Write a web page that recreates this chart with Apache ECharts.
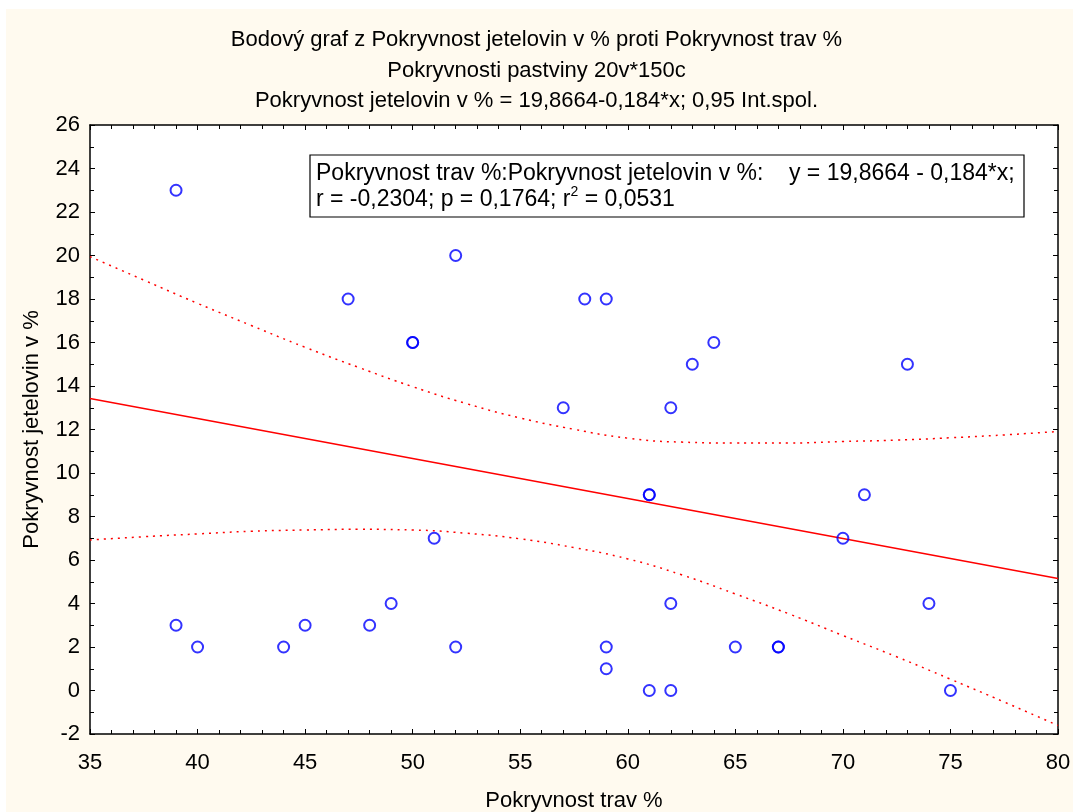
<!DOCTYPE html>
<html>
<head>
<meta charset="utf-8">
<script src="https://cdn.jsdelivr.net/npm/echarts@6/dist/echarts.min.js"></script>
<style>
html,body{margin:0;padding:0;background:#ffffff;}
#c{width:1073px;height:812px;}
</style>
</head>
<body>
<div id="c"></div>
<script>
// Data
var xTravy = [39,39,40,44,45,47,48,49,50,50,51,52,52,57,58,59,59,59,61,61,61,62,62,62,63,64,65,67,67,70,71,73,74,75];
var yJetel = [23,3,2,2,3,18,3,4,16,16,7,20,2,13,18,18,2,1,9,9,0,13,4,0,15,16,2,2,2,7,9,15,4,0];
var fitX = [35,80];
var fitY = [13.43,5.15];
var bandX = [35,37.5,40,42.5,45,47.5,50,52.5,55,57.5,60,62.5,65,67.5,70,72.5,75,77.5,80];
var bandUpper = [19.95,18.87,17.8,16.78,15.78,14.85,13.97,13.19,12.53,12.01,11.6,11.42,11.38,11.38,11.45,11.51,11.62,11.75,11.91];
var bandLower = [6.92,7.07,7.2,7.32,7.38,7.41,7.38,7.23,6.97,6.57,6.05,5.32,4.44,3.52,2.53,1.55,0.52,-0.53,-1.61];
var titleLines = ['Bodový graf z Pokryvnost jetelovin v % proti Pokryvnost trav %','Pokryvnosti pastviny 20v*150c','Pokryvnost jetelovin v % = 19,8664-0,184*x; 0,95 Int.spol.'];
var xName = 'Pokryvnost trav %';
var yName = 'Pokryvnost jetelovin v %';

function zip(a,b){var r=[];for(var i=0;i<a.length;i++)r.push([a[i],b[i]]);return r;}
var FONT = 'Liberation Sans, Arial, sans-serif';
var FS = 22;
var chart = echarts.init(document.getElementById('c'));
var axCommon = {
  axisLine:{show:true,onZero:false,lineStyle:{color:'#000',width:1.5}},
  axisTick:{show:true,inside:true,length:5,lineStyle:{color:'#000'}},
  splitLine:{show:false}
};
var option = {
  backgroundColor:'#ffffff',
  animation:false,
  textStyle:{fontFamily:FONT},
  title: titleLines.map(function(t,i){return {text:t,left:'center',top:24+i*30.5,textStyle:{fontFamily:FONT,fontSize:FS,fontWeight:'normal',color:'#000'}};}),
  graphic:[
    {type:'rect',z:-10,silent:true,shape:{x:6,y:9,width:1067,height:803},style:{fill:'#fffaef'}},
    {type:'rect',z:-9,silent:true,shape:{x:90,y:125,width:968,height:609},style:{fill:'#ffffff'}},
    {type:'rect',z:100,silent:true,shape:{x:310,y:155,width:714,height:62},style:{fill:'#ffffff',stroke:'#000',lineWidth:1.2}},
    {type:'text',z:101,silent:true,left:316,top:162,style:{text:'Pokryvnost trav %:Pokryvnost jetelovin v %:    y = 19,8664 - 0,184*x;',font:'23px '+FONT,fill:'#000'}},
    {type:'text',z:101,silent:true,left:316,top:185,style:{text:'{a|r = -0,2304; p = 0,1764; r}{s|2}{a| = 0,0531}',fill:'#000',
      rich:{a:{fontSize:23,fontFamily:FONT,lineHeight:26,verticalAlign:'bottom'},s:{fontSize:14,fontFamily:FONT,lineHeight:26,verticalAlign:'top',padding:[0,0,10,0]}}}}
  ],
  grid:{left:90,right:15,top:125,bottom:78,containLabel:false,outerBoundsMode:'none'},
  xAxis:[
    Object.assign({type:'value',min:35,max:80,interval:5,position:'bottom',
      name:xName,nameLocation:'middle',nameGap:56,nameTextStyle:{fontSize:FS,color:'#000',fontFamily:FONT},
      axisLabel:{fontSize:FS,color:'#000',margin:18,fontFamily:FONT},
      splitLine:{show:true,lineStyle:{color:'#dcdcdc',width:1}}},axCommon,{minorTick:{show:true,splitNumber:5,length:4,lineStyle:{color:'#000'}}}),
    Object.assign({type:'value',min:35,max:80,interval:5,position:'top',axisLabel:{show:false}},axCommon,{minorTick:{show:true,splitNumber:5,length:4,lineStyle:{color:'#000'}}})
  ],
  yAxis:[
    Object.assign({type:'value',min:-2,max:26,interval:2,position:'left',
      name:yName,nameLocation:'middle',nameGap:47,nameTextStyle:{fontSize:FS,color:'#000',fontFamily:FONT},
      axisLabel:{fontSize:FS,color:'#000',margin:10,fontFamily:FONT},
      splitLine:{show:true,lineStyle:{color:'#dcdcdc',width:1}}},axCommon,{minorTick:{show:true,splitNumber:2,length:4,lineStyle:{color:'#000'}}}),
    Object.assign({type:'value',min:-2,max:26,interval:2,position:'right',axisLabel:{show:false}},axCommon,{minorTick:{show:true,splitNumber:2,length:4,lineStyle:{color:'#000'}}})
  ],
  series:[
    {type:'line',data:zip(bandX,bandUpper),smooth:true,symbol:'none',clip:true,lineStyle:{color:'#ff0000',width:1.5,type:[2,5]},z:3},
    {type:'line',data:zip(bandX,bandLower),smooth:true,symbol:'none',clip:true,lineStyle:{color:'#ff0000',width:1.5,type:[2,5]},z:3},
    {type:'line',data:zip(fitX,fitY),symbol:'none',lineStyle:{color:'#ff0000',width:1.5},z:3},
    {type:'scatter',data:zip(xTravy,yJetel),symbol:'circle',symbolSize:11,itemStyle:{color:'rgba(255,255,255,0)',borderColor:'#0000ff',borderWidth:2},z:5}
  ]
};
chart.setOption(option);
</script>
</body>
</html>
